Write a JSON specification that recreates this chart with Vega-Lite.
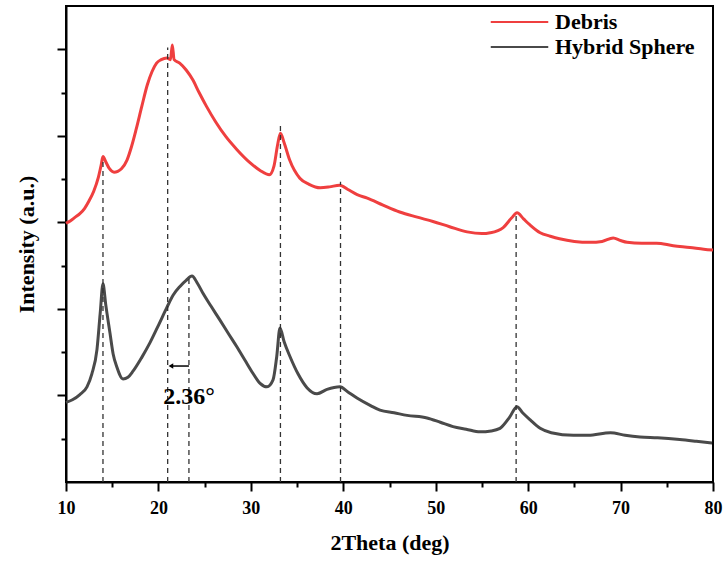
{
  "$schema": "https://vega.github.io/schema/vega-lite/v6.json",
  "width": 647,
  "height": 476,
  "autosize": "none",
  "padding": {"left": 66, "top": 6, "right": 11, "bottom": 79},
  "background": "white",
  "config": {
    "view": {"stroke": "black", "strokeWidth": 2},
    "font": "Liberation Serif"
  },
  "datasets": {
    "xrd": [
      {"x": 10, "y": 2.99, "series": "Debris"},
      {"x": 10.5, "y": 3.02, "series": "Debris"},
      {"x": 11, "y": 3.06, "series": "Debris"},
      {"x": 11.5, "y": 3.10, "series": "Debris"},
      {"x": 12, "y": 3.16, "series": "Debris"},
      {"x": 12.5, "y": 3.25, "series": "Debris"},
      {"x": 13, "y": 3.36, "series": "Debris"},
      {"x": 13.5, "y": 3.52, "series": "Debris"},
      {"x": 13.8, "y": 3.66, "series": "Debris"},
      {"x": 14.0, "y": 3.76, "series": "Debris"},
      {"x": 14.3, "y": 3.70, "series": "Debris"},
      {"x": 14.7, "y": 3.62, "series": "Debris"},
      {"x": 15.2, "y": 3.58, "series": "Debris"},
      {"x": 15.6, "y": 3.59, "series": "Debris"},
      {"x": 16.0, "y": 3.62, "series": "Debris"},
      {"x": 16.6, "y": 3.72, "series": "Debris"},
      {"x": 17.1, "y": 3.88, "series": "Debris"},
      {"x": 17.6, "y": 4.08, "series": "Debris"},
      {"x": 18.2, "y": 4.34, "series": "Debris"},
      {"x": 18.8, "y": 4.59, "series": "Debris"},
      {"x": 19.3, "y": 4.74, "series": "Debris"},
      {"x": 19.8, "y": 4.84, "series": "Debris"},
      {"x": 20.3, "y": 4.88, "series": "Debris"},
      {"x": 20.9, "y": 4.90, "series": "Debris"},
      {"x": 21.3, "y": 4.88, "series": "Debris"},
      {"x": 21.5, "y": 5.05, "series": "Debris"},
      {"x": 21.7, "y": 4.88, "series": "Debris"},
      {"x": 22.3, "y": 4.84, "series": "Debris"},
      {"x": 23.0, "y": 4.76, "series": "Debris"},
      {"x": 23.7, "y": 4.65, "series": "Debris"},
      {"x": 24.4, "y": 4.50, "series": "Debris"},
      {"x": 25.2, "y": 4.34, "series": "Debris"},
      {"x": 26.2, "y": 4.16, "series": "Debris"},
      {"x": 27.3, "y": 3.99, "series": "Debris"},
      {"x": 28.5, "y": 3.84, "series": "Debris"},
      {"x": 29.9, "y": 3.69, "series": "Debris"},
      {"x": 31.0, "y": 3.60, "series": "Debris"},
      {"x": 32.0, "y": 3.55, "series": "Debris"},
      {"x": 32.5, "y": 3.65, "series": "Debris"},
      {"x": 32.9, "y": 3.90, "series": "Debris"},
      {"x": 33.2, "y": 4.03, "series": "Debris"},
      {"x": 33.6, "y": 3.92, "series": "Debris"},
      {"x": 34.2, "y": 3.72, "series": "Debris"},
      {"x": 35.3, "y": 3.51, "series": "Debris"},
      {"x": 36.3, "y": 3.44, "series": "Debris"},
      {"x": 37.5, "y": 3.40, "series": "Debris"},
      {"x": 38.5, "y": 3.41, "series": "Debris"},
      {"x": 39.6, "y": 3.43, "series": "Debris"},
      {"x": 40.5, "y": 3.38, "series": "Debris"},
      {"x": 41.5, "y": 3.32, "series": "Debris"},
      {"x": 42.6, "y": 3.28, "series": "Debris"},
      {"x": 44.3, "y": 3.20, "series": "Debris"},
      {"x": 46.1, "y": 3.12, "series": "Debris"},
      {"x": 48.0, "y": 3.06, "series": "Debris"},
      {"x": 49.7, "y": 3.01, "series": "Debris"},
      {"x": 51.5, "y": 2.95, "series": "Debris"},
      {"x": 53.4, "y": 2.89, "series": "Debris"},
      {"x": 55.0, "y": 2.87, "series": "Debris"},
      {"x": 55.9, "y": 2.88, "series": "Debris"},
      {"x": 57.3, "y": 2.94, "series": "Debris"},
      {"x": 58.2, "y": 3.05, "series": "Debris"},
      {"x": 58.8, "y": 3.11, "series": "Debris"},
      {"x": 59.5, "y": 3.04, "series": "Debris"},
      {"x": 60.2, "y": 2.97, "series": "Debris"},
      {"x": 61.3, "y": 2.88, "series": "Debris"},
      {"x": 62.4, "y": 2.84, "series": "Debris"},
      {"x": 63.4, "y": 2.81, "series": "Debris"},
      {"x": 65.0, "y": 2.78, "series": "Debris"},
      {"x": 66.7, "y": 2.77, "series": "Debris"},
      {"x": 68.0, "y": 2.78, "series": "Debris"},
      {"x": 69.2, "y": 2.82, "series": "Debris"},
      {"x": 70.0, "y": 2.79, "series": "Debris"},
      {"x": 70.7, "y": 2.77, "series": "Debris"},
      {"x": 72.3, "y": 2.76, "series": "Debris"},
      {"x": 73.9, "y": 2.76, "series": "Debris"},
      {"x": 75.7, "y": 2.73, "series": "Debris"},
      {"x": 77.5, "y": 2.71, "series": "Debris"},
      {"x": 79.0, "y": 2.69, "series": "Debris"},
      {"x": 80, "y": 2.68, "series": "Debris"},
      {"x": 10, "y": 0.92, "series": "Hybrid Sphere"},
      {"x": 10.7, "y": 0.95, "series": "Hybrid Sphere"},
      {"x": 11.5, "y": 1.01, "series": "Hybrid Sphere"},
      {"x": 12.27, "y": 1.10, "series": "Hybrid Sphere"},
      {"x": 12.8, "y": 1.25, "series": "Hybrid Sphere"},
      {"x": 13.35, "y": 1.53, "series": "Hybrid Sphere"},
      {"x": 13.7, "y": 1.95, "series": "Hybrid Sphere"},
      {"x": 14.0, "y": 2.29, "series": "Hybrid Sphere"},
      {"x": 14.3, "y": 2.05, "series": "Hybrid Sphere"},
      {"x": 14.76, "y": 1.72, "series": "Hybrid Sphere"},
      {"x": 15.1, "y": 1.48, "series": "Hybrid Sphere"},
      {"x": 15.5, "y": 1.33, "series": "Hybrid Sphere"},
      {"x": 16.17, "y": 1.19, "series": "Hybrid Sphere"},
      {"x": 16.7, "y": 1.21, "series": "Hybrid Sphere"},
      {"x": 17.25, "y": 1.28, "series": "Hybrid Sphere"},
      {"x": 18.2, "y": 1.44, "series": "Hybrid Sphere"},
      {"x": 19.09, "y": 1.61, "series": "Hybrid Sphere"},
      {"x": 20.0, "y": 1.81, "series": "Hybrid Sphere"},
      {"x": 20.93, "y": 2.02, "series": "Hybrid Sphere"},
      {"x": 21.6, "y": 2.16, "series": "Hybrid Sphere"},
      {"x": 22.33, "y": 2.26, "series": "Hybrid Sphere"},
      {"x": 23.0, "y": 2.33, "series": "Hybrid Sphere"},
      {"x": 23.63, "y": 2.38, "series": "Hybrid Sphere"},
      {"x": 24.2, "y": 2.30, "series": "Hybrid Sphere"},
      {"x": 24.82, "y": 2.18, "series": "Hybrid Sphere"},
      {"x": 25.7, "y": 2.03, "series": "Hybrid Sphere"},
      {"x": 26.66, "y": 1.87, "series": "Hybrid Sphere"},
      {"x": 27.6, "y": 1.71, "series": "Hybrid Sphere"},
      {"x": 28.5, "y": 1.56, "series": "Hybrid Sphere"},
      {"x": 29.4, "y": 1.40, "series": "Hybrid Sphere"},
      {"x": 30.2, "y": 1.26, "series": "Hybrid Sphere"},
      {"x": 31.0, "y": 1.14, "series": "Hybrid Sphere"},
      {"x": 31.75, "y": 1.10, "series": "Hybrid Sphere"},
      {"x": 32.4, "y": 1.18, "series": "Hybrid Sphere"},
      {"x": 32.8, "y": 1.45, "series": "Hybrid Sphere"},
      {"x": 33.15, "y": 1.78, "series": "Hybrid Sphere"},
      {"x": 33.6, "y": 1.62, "series": "Hybrid Sphere"},
      {"x": 34.23, "y": 1.45, "series": "Hybrid Sphere"},
      {"x": 35.1, "y": 1.25, "series": "Hybrid Sphere"},
      {"x": 36.07, "y": 1.09, "series": "Hybrid Sphere"},
      {"x": 37.16, "y": 1.02, "series": "Hybrid Sphere"},
      {"x": 38.24, "y": 1.07, "series": "Hybrid Sphere"},
      {"x": 39.64, "y": 1.10, "series": "Hybrid Sphere"},
      {"x": 40.5, "y": 1.04, "series": "Hybrid Sphere"},
      {"x": 41.48, "y": 0.97, "series": "Hybrid Sphere"},
      {"x": 43.0, "y": 0.88, "series": "Hybrid Sphere"},
      {"x": 43.97, "y": 0.83, "series": "Hybrid Sphere"},
      {"x": 45.5, "y": 0.80, "series": "Hybrid Sphere"},
      {"x": 46.9, "y": 0.77, "series": "Hybrid Sphere"},
      {"x": 49.06, "y": 0.74, "series": "Hybrid Sphere"},
      {"x": 50.5, "y": 0.69, "series": "Hybrid Sphere"},
      {"x": 51.87, "y": 0.64, "series": "Hybrid Sphere"},
      {"x": 53.3, "y": 0.61, "series": "Hybrid Sphere"},
      {"x": 54.79, "y": 0.58, "series": "Hybrid Sphere"},
      {"x": 56.0, "y": 0.59, "series": "Hybrid Sphere"},
      {"x": 56.95, "y": 0.62, "series": "Hybrid Sphere"},
      {"x": 58.0, "y": 0.75, "series": "Hybrid Sphere"},
      {"x": 58.79, "y": 0.87, "series": "Hybrid Sphere"},
      {"x": 59.4, "y": 0.80, "series": "Hybrid Sphere"},
      {"x": 60.2, "y": 0.72, "series": "Hybrid Sphere"},
      {"x": 61.3, "y": 0.62, "series": "Hybrid Sphere"},
      {"x": 62.5, "y": 0.57, "series": "Hybrid Sphere"},
      {"x": 64.9, "y": 0.54, "series": "Hybrid Sphere"},
      {"x": 66.5, "y": 0.54, "series": "Hybrid Sphere"},
      {"x": 68.9, "y": 0.57, "series": "Hybrid Sphere"},
      {"x": 70.5, "y": 0.54, "series": "Hybrid Sphere"},
      {"x": 72.1, "y": 0.52, "series": "Hybrid Sphere"},
      {"x": 74.0, "y": 0.51, "series": "Hybrid Sphere"},
      {"x": 76.4, "y": 0.49, "series": "Hybrid Sphere"},
      {"x": 78.2, "y": 0.47, "series": "Hybrid Sphere"},
      {"x": 79.9, "y": 0.45, "series": "Hybrid Sphere"}
    ],
    "guides": [
      {"x": 14.0, "y": 0, "y2": 3.74},
      {"x": 21.0, "y": 0, "y2": 5.02},
      {"x": 23.3, "y": 0, "y2": 2.39},
      {"x": 33.2, "y": 0, "y2": 4.16},
      {"x": 39.7, "y": 0, "y2": 3.47},
      {"x": 58.7, "y": 0, "y2": 3.12}
    ],
    "arrow": [{"x": 23.3, "x2": 21.4, "y": 1.34}],
    "arrowhead": [{"x": 21.35, "y": 1.34}],
    "note": [{"x": 23.3, "y": 0.98, "label": "2.36°"}]
  },
  "resolve": {"axis": {"x": "independent", "y": "independent"}},
  "layer": [
    {
      "data": {"name": "xrd"},
      "mark": {"type": "line", "strokeWidth": 3, "interpolate": "monotone"},
      "encoding": {
        "x": {
          "field": "x", "type": "quantitative",
          "scale": {"domain": [10, 80], "nice": false, "zero": false},
          "axis": {
            "orient": "bottom", "values": [10, 20, 30, 40, 50, 60, 70, 80],
            "title": "2Theta (deg)", "titleFont": "Liberation Serif", "titleFontSize": 22,
            "titleFontWeight": "bold", "titleColor": "black", "titlePadding": 15,
            "labelFont": "Liberation Serif", "labelFontSize": 18, "labelFontWeight": "bold",
            "labelColor": "black", "labelPadding": 8, "tickSize": 9, "tickWidth": 2,
            "tickColor": "black", "domainColor": "black", "domainWidth": 2,
            "grid": false, "labelFlush": false
          }
        },
        "y": {
          "field": "y", "type": "quantitative",
          "scale": {"domain": [0, 5.5], "nice": false},
          "axis": {
            "orient": "left", "values": [1, 2, 3, 4, 5], "labels": false,
            "title": "Intensity (a.u.)", "titleFont": "Liberation Serif", "titleFontSize": 22,
            "titleFontWeight": "bold", "titleColor": "black", "titlePadding": 18,
            "tickSize": 9, "tickWidth": 2, "tickColor": "black",
            "domainColor": "black", "domainWidth": 2, "grid": false
          }
        },
        "color": {
          "field": "series", "type": "nominal",
          "scale": {"domain": ["Debris", "Hybrid Sphere"], "range": ["#ef3f3f", "#4a4a4a"]},
          "legend": {
            "orient": "none", "legendX": 441, "legendY": 3.5, "title": null,
            "symbolType": "M-2.5,0H2.5", "symbolSize": 529, "symbolStrokeWidth": 2,
            "labelFont": "Liberation Serif", "labelFontSize": 22, "labelFontWeight": "bold",
            "labelColor": "black", "labelOffset": 23, "rowPadding": 1
          }
        }
      }
    },
    {
      "data": {"name": "guides"},
      "mark": {"type": "rule", "strokeDash": [5, 4], "strokeWidth": 1.3, "color": "#333333"},
      "encoding": {
        "x": {
          "field": "x", "type": "quantitative",
          "axis": {
            "orient": "bottom", "values": [15, 25, 35, 45, 55, 65, 75], "labels": false,
            "title": null, "domain": false, "tickSize": 5, "tickWidth": 2,
            "tickColor": "black", "grid": false
          }
        },
        "y": {
          "field": "y", "type": "quantitative",
          "axis": {
            "orient": "left", "values": [0.5, 1.5, 2.5, 3.5, 4.5], "labels": false,
            "title": null, "domain": false, "tickSize": 5, "tickWidth": 2,
            "tickColor": "black", "grid": false
          }
        },
        "y2": {"field": "y2"}
      }
    },
    {
      "data": {"name": "arrow"},
      "mark": {"type": "rule", "strokeWidth": 1.5, "color": "black"},
      "encoding": {
        "x": {"field": "x", "type": "quantitative", "axis": null},
        "x2": {"field": "x2"},
        "y": {"field": "y", "type": "quantitative", "axis": null}
      }
    },
    {
      "data": {"name": "arrowhead"},
      "mark": {"type": "point", "shape": "triangle-left", "filled": true, "color": "black", "size": 30, "opacity": 1},
      "encoding": {
        "x": {"field": "x", "type": "quantitative", "axis": null},
        "y": {"field": "y", "type": "quantitative", "axis": null}
      }
    },
    {
      "data": {"name": "note"},
      "mark": {"type": "text", "font": "Liberation Serif", "fontSize": 24, "fontWeight": "bold", "color": "black"},
      "encoding": {
        "x": {"field": "x", "type": "quantitative", "axis": null},
        "y": {"field": "y", "type": "quantitative", "axis": null},
        "text": {"field": "label"}
      }
    }
  ]
}
